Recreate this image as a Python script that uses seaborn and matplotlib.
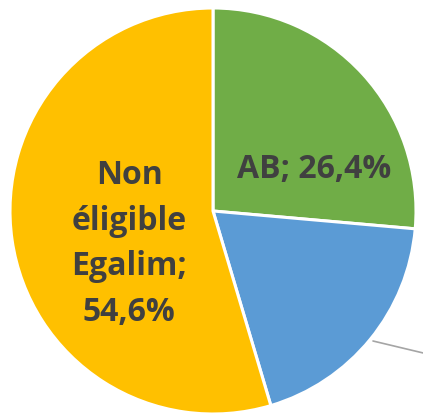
import matplotlib
matplotlib.use("Agg")
import matplotlib.pyplot as plt
import seaborn as sns

# data (blue slice label is cropped out of the frame)
categories = ["AB", "Autres Egalim", "Non éligible Egalim"]
shares = [26.4, 19.0, 54.6]
colors = ["#70AD47", "#5B9BD5", "#FFC000"]

sns.set_theme(style="white")
plt.rcParams['font.family'] = ['Open Sans', 'DejaVu Sans']

W, H = 423, 418
fig = plt.figure(figsize=(W / 100, H / 100), dpi=100)
ax = fig.add_axes([0, 0, 1, 1])

cx, cy, r = 213, H - 211, 203
wedges, _ = ax.pie(shares, colors=colors, startangle=90, counterclock=False,
                   center=(cx, cy), radius=r, frame=True,
                   wedgeprops=dict(edgecolor="white", linewidth=2.2))
ax.set_xlim(0, W)
ax.set_ylim(0, H)
ax.set_aspect("equal")
ax.axis("off")

txt = dict(color="#404040", fontsize=23, fontweight="bold", ha="center", va="center")
ax.text(314, H - 170, "%s; %s%%" % (categories[0], str(shares[0]).replace(".", ",")), **txt)
ax.text(129, H - 244, "Non\néligible\nEgalim;\n%s%%" % str(shares[2]).replace(".", ","),
        linespacing=1.5, **txt)

# leader line for the blue slice's label (label itself lies outside the crop)
ax.plot([373, 440], [H - 341, H - 357], color="#A5A5A5", lw=1.2, clip_on=True)

fig.savefig("out.png", dpi=100)
